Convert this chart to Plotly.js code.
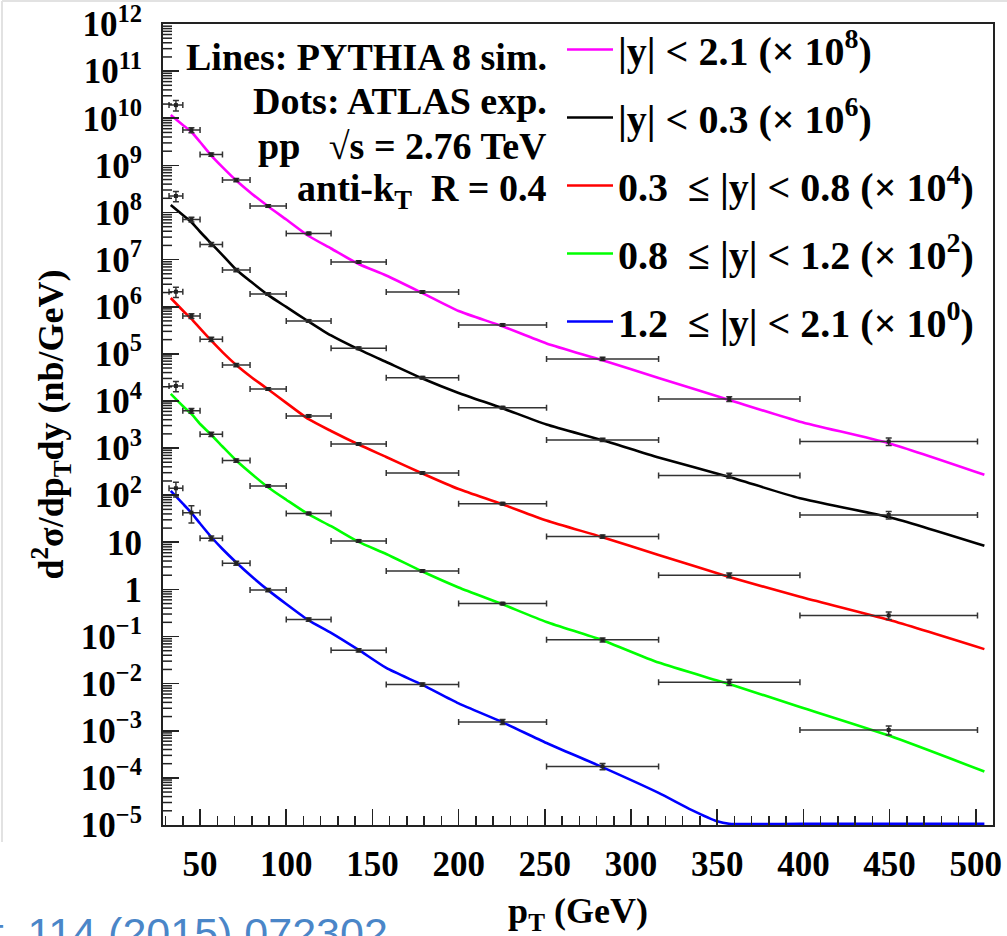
<!DOCTYPE html>
<html><head><meta charset="utf-8">
<script src="https://cdn.plot.ly/plotly-3.0.1.min.js"></script>
<style>html,body{margin:0;padding:0;background:#fff;} #chart{width:1007px;height:936px;}</style>
</head><body><div id="chart"></div>
<script>
// ATLAS pT bin edges (GeV)
const binEdges = [32, 40, 50, 63, 79, 100, 126, 158, 200, 251, 316, 398, 501];

// ATLAS data points (as plotted, already multiplied by the legend scale factor)
const atlasMagenta = [1.9e10, 5.6e9, 1.7e9, 4.9e8, 1.37e8, 3.6e7, 8.9e6, 2.05e6, 4.1e5, 7.8e4, 1.1e4, 1.38e3];
const atlasBlack   = [2.24e8, 7.1e7, 2.1e7, 6.0e6, 1.86e6, 5.0e5, 1.31e5, 3.1e4, 7.2e3, 1.49e3, 260, 38];
const atlasRed     = [2.08e6, 6.35e5, 2.04e5, 5.8e4, 1.79e4, 4.8e3, 1.22e3, 296, 66, 13.2, 2.0, 0.28];
const atlasGreen   = [2.08e4, 6.2e3, 1.96e3, 545, 157, 41, 10.7, 2.46, 0.5, 0.085, 0.0107, 0.00104];
const atlasBlue    = [140, 42.6, 12.2, 3.6, 0.97, 0.23, 0.051, 0.0096, 0.00154, 1.75e-4];

// relative vertical uncertainties of the data points
const relErrMagenta = [0.25, 0.12, 0.08, 0.08, 0.06, 0.06, 0.06, 0.06, 0.06, 0.08, 0.12, 0.18];
const relErrBlack   = [0.25, 0.12, 0.10, 0.08, 0.06, 0.06, 0.06, 0.06, 0.06, 0.08, 0.12, 0.18];
const relErrRed     = [0.25, 0.12, 0.10, 0.08, 0.06, 0.06, 0.06, 0.06, 0.06, 0.08, 0.12, 0.18];
const relErrGreen   = [0.25, 0.12, 0.10, 0.08, 0.06, 0.06, 0.06, 0.06, 0.06, 0.10, 0.15, 0.22];
const relErrBlue    = [0.35, 0.40, 0.12, 0.10, 0.08, 0.08, 0.08, 0.08, 0.12, 0.15];

// PYTHIA 8 simulation curves
const simPt = [33, 40, 45, 50, 56, 63, 71, 80, 90, 100, 113, 126, 142, 158, 179, 200, 225, 251, 283, 316, 357, 398, 450, 505];
const simMagenta = [1.17e10, 7.2e9, 5.1e9, 3.13e9, 1.7e9, 9.2e8, 4.77e8, 2.51e8, 1.31e8, 7.1e7, 3.17e7, 1.72e7, 8.07e6, 4.6e6, 1.95e6, 8.1e5, 3.9e5, 1.66e5, 7.4e4, 3.07e4, 1.05e4, 3.63e3, 1.25e3, 270];
const simBlack   = [1.44e8, 8.8e7, 6.2e7, 3.9e7, 2.3e7, 1.25e7, 6.1e6, 3.3e6, 1.72e6, 9.9e5, 4.85e5, 2.45e5, 1.24e5, 6.7e4, 3.0e4, 1.48e4, 7.1e3, 3.16e3, 1.48e3, 630, 243, 86, 34, 8.4];
const simRed     = [1.53e6, 8.3e5, 5.5e5, 3.45e5, 2.0e5, 1.09e5, 5.8e4, 3.15e4, 1.71e4, 9.1e3, 4.1e3, 2.3e3, 1.19e3, 647, 289, 135, 65, 29, 13, 5.4, 1.84, 0.70, 0.224, 0.054];
const simGreen   = [1.41e4, 7.8e3, 5.3e3, 3.24e3, 1.99e3, 1.08e3, 545, 282, 142, 80, 39, 22, 10.2, 5.65, 2.4, 1.1, 0.49, 0.204, 0.0845, 0.028, 0.0098, 0.0032, 7.8e-4, 1.36e-4];
const simPtBlue  = [33, 40, 45, 50, 56, 63, 71, 80, 90, 100, 113, 126, 142, 158, 179, 200, 225, 251, 283, 316, 335, 350, 357, 398, 450, 505];
const simBlue    = [123, 66, 42, 25, 13.6, 7.2, 3.73, 1.88, 0.93, 0.49, 0.22, 0.12, 0.052, 0.0215, 0.0094, 0.0038, 0.00154, 5.5e-4, 1.71e-4, 4.8e-5, 2.1e-5, 1.2e-5, 1.06e-5, 1.06e-5, 1.06e-5, 1.06e-5];

const legendNames = [
  '|y| &lt; 2.1 (× 10<sup>8</sup>)',
  '|y| &lt; 0.3 (× 10<sup>6</sup>)',
  '0.3&nbsp;&nbsp;≤ |y| &lt; 0.8 (× 10<sup>4</sup>)',
  '0.8&nbsp;&nbsp;≤ |y| &lt; 1.2 (× 10<sup>2</sup>)',
  '1.2&nbsp;&nbsp;≤ |y| &lt; 2.1 (× 10<sup>0</sup>)'
];
const lineColors = ['#ff00ff', '#000000', '#ff0000', '#00ff00', '#0000ff'];

// y-axis decades and their labels
const yDecades = [12, 11, 10, 9, 8, 7, 6, 5, 4, 3, 2, 1, 0, -1, -2, -3, -4, -5];
const yTickText = ['10<sup>12</sup>', '10<sup>11</sup>', '10<sup>10</sup>', '10<sup>9</sup>', '10<sup>8</sup>', '10<sup>7</sup>',
  '10<sup>6</sup>', '10<sup>5</sup>', '10<sup>4</sup>', '10<sup>3</sup>', '10<sup>2</sup>', '10', '1',
  '10<sup>−1</sup>', '10<sup>−2</sup>', '10<sup>−3</sup>', '10<sup>−4</sup>', '10<sup>−5</sup>'];
// minor tick digits within each decade
const minorDigits = [2, 3, 4, 5, 6, 7, 8, 9];

const FONT = '"Liberation Serif", "Times New Roman", serif';

const binCenters = binEdges.slice(0, -1).map((lo, i) => (lo + binEdges[i + 1]) / 2);
const binHalf = binEdges.slice(0, -1).map((lo, i) => (binEdges[i + 1] - lo) / 2);
const yMajorVals = yDecades.map(d => Math.pow(10, d));
const yMinorVals = [];
yDecades.filter(d => d < 12).forEach(d => minorDigits.forEach(m => yMinorVals.push(m * Math.pow(10, d))));

const simX = [simPt, simPt, simPt, simPt, simPtBlue];
const simY = [simMagenta, simBlack, simRed, simGreen, simBlue];
const dataY = [atlasMagenta, atlasBlack, atlasRed, atlasGreen, atlasBlue];
const dataErr = [relErrMagenta, relErrBlack, relErrRed, relErrGreen, relErrBlue];

const traces = [];
for (let i = 0; i < 5; i++) {
  traces.push({
    type: 'scatter', mode: 'lines', x: simX[i], y: simY[i],
    name: legendNames[i], legendgroup: 'g' + i,
    line: {color: lineColors[i], width: 2.6, shape: 'spline', smoothing: 0.6}
  });
}
for (let i = 0; i < 5; i++) {
  const n = dataY[i].length;
  traces.push({
    type: 'scatter', mode: 'markers',
    x: binCenters.slice(0, n), y: dataY[i],
    showlegend: false,
    marker: {color: '#222', size: 4, symbol: 'square'},
    error_x: {type: 'data', array: binHalf.slice(0, n), symmetric: true, color: '#333', thickness: 1.5, width: 3},
    error_y: {type: 'data', array: dataY[i].map((v, k) => v * dataErr[i][k]), symmetric: true, color: '#333', thickness: 1.5, width: 3}
  });
}

const px2x = p => (p - 163) / 830;
const py2y = p => (825 - p) / 801;

const annFont = {family: FONT, size: 38, color: '#000', weight: 'bold'};
const textLines = ['Lines: PYTHIA 8 sim.', 'Dots: ATLAS exp.', 'pp&nbsp;&nbsp;&nbsp;√s = 2.76 TeV', 'anti-k<sub>T</sub>&nbsp;&nbsp;R = 0.4'];
const textY = [57, 101, 146, 191];
const annotations = textLines.map((t, i) => ({
  text: t, xref: 'paper', yref: 'paper', x: px2x(549), y: py2y(textY[i]),
  xanchor: 'right', yanchor: 'middle', align: 'right', showarrow: false, font: annFont
}));
annotations.push({
  text: 'Lett. 114 (2015) 072302', xref: 'paper', yref: 'paper',
  x: px2x(390), y: py2y(907), xanchor: 'right', yanchor: 'top', showarrow: false,
  font: {family: '"Liberation Sans", Arial, sans-serif', size: 43, color: '#4a86c8'}
});

// short minor tick marks along the inside of the left frame (axis decoration)
const shapes = yMinorVals.map(v => ({
  type: 'line', xref: 'paper', yref: 'y', x0: 0, x1: 9 / 830, y0: v, y1: v,
  line: {color: '#222', width: 1.5}, layer: 'above'
}));
shapes.push(
  {type: 'line', xref: 'paper', yref: 'paper', x0: px2x(2), x1: px2x(2), y0: py2y(1), y1: py2y(842), line: {color: '#e2e2e2', width: 2}},
  {type: 'line', xref: 'paper', yref: 'paper', x0: px2x(2), x1: px2x(1007), y0: py2y(1), y1: py2y(1), line: {color: '#e2e2e2', width: 2}}
);

const tickFont = {family: FONT, size: 35, color: '#000', weight: 'bold'};

const layout = {
  width: 1007, height: 936,
  margin: {l: 163, r: 14, t: 24, b: 111},
  paper_bgcolor: '#fff', plot_bgcolor: '#fff',
  showlegend: true,
  legend: {
    x: px2x(562), xanchor: 'left', y: py2y(17), yanchor: 'top',
    bgcolor: 'rgba(0,0,0,0)', borderwidth: 0, tracegroupgap: 13, itemwidth: 46,
    font: {family: FONT, size: 40, color: '#000', weight: 'bold'}
  },
  xaxis: {
    type: 'linear', range: [28.5, 510], tickmode: 'linear', tick0: 0, dtick: 50,
    showline: true, linecolor: '#222', linewidth: 2, mirror: true, showgrid: false, zeroline: false,
    ticks: 'inside', ticklen: 16, tickwidth: 1.6, tickcolor: '#222', tickfont: tickFont,
    minor: {dtick: 10, tick0: 0, ticks: 'inside', ticklen: 9, tickwidth: 1.5, tickcolor: '#222', showgrid: false},
    ticklabelstandoff: 7,
    title: {text: 'p<sub>T</sub> (GeV)', font: {family: FONT, size: 36, color: '#000', weight: 'bold'}, standoff: 17}
  },
  yaxis: {
    type: 'log', range: [-5.0005, 12.0005], tickmode: 'array', tickvals: yMajorVals, ticktext: yTickText,
    showline: true, linecolor: '#222', linewidth: 2, mirror: true, showgrid: false, zeroline: false,
    ticks: 'inside', ticklen: 16, tickwidth: 1.6, tickcolor: '#222', tickfont: tickFont,
    ticklabeloverflow: 'allow', ticklabelstandoff: 12,
    title: {text: 'd<sup>2</sup>σ/dp<sub>T</sub>dy (nb/GeV)', font: {family: FONT, size: 36, color: '#000', weight: 'bold'}, standoff: 6}
  },
  annotations: annotations,
  shapes: shapes
};

Plotly.newPlot('chart', traces, layout, {displayModeBar: false, staticPlot: true});
</script></body></html>
